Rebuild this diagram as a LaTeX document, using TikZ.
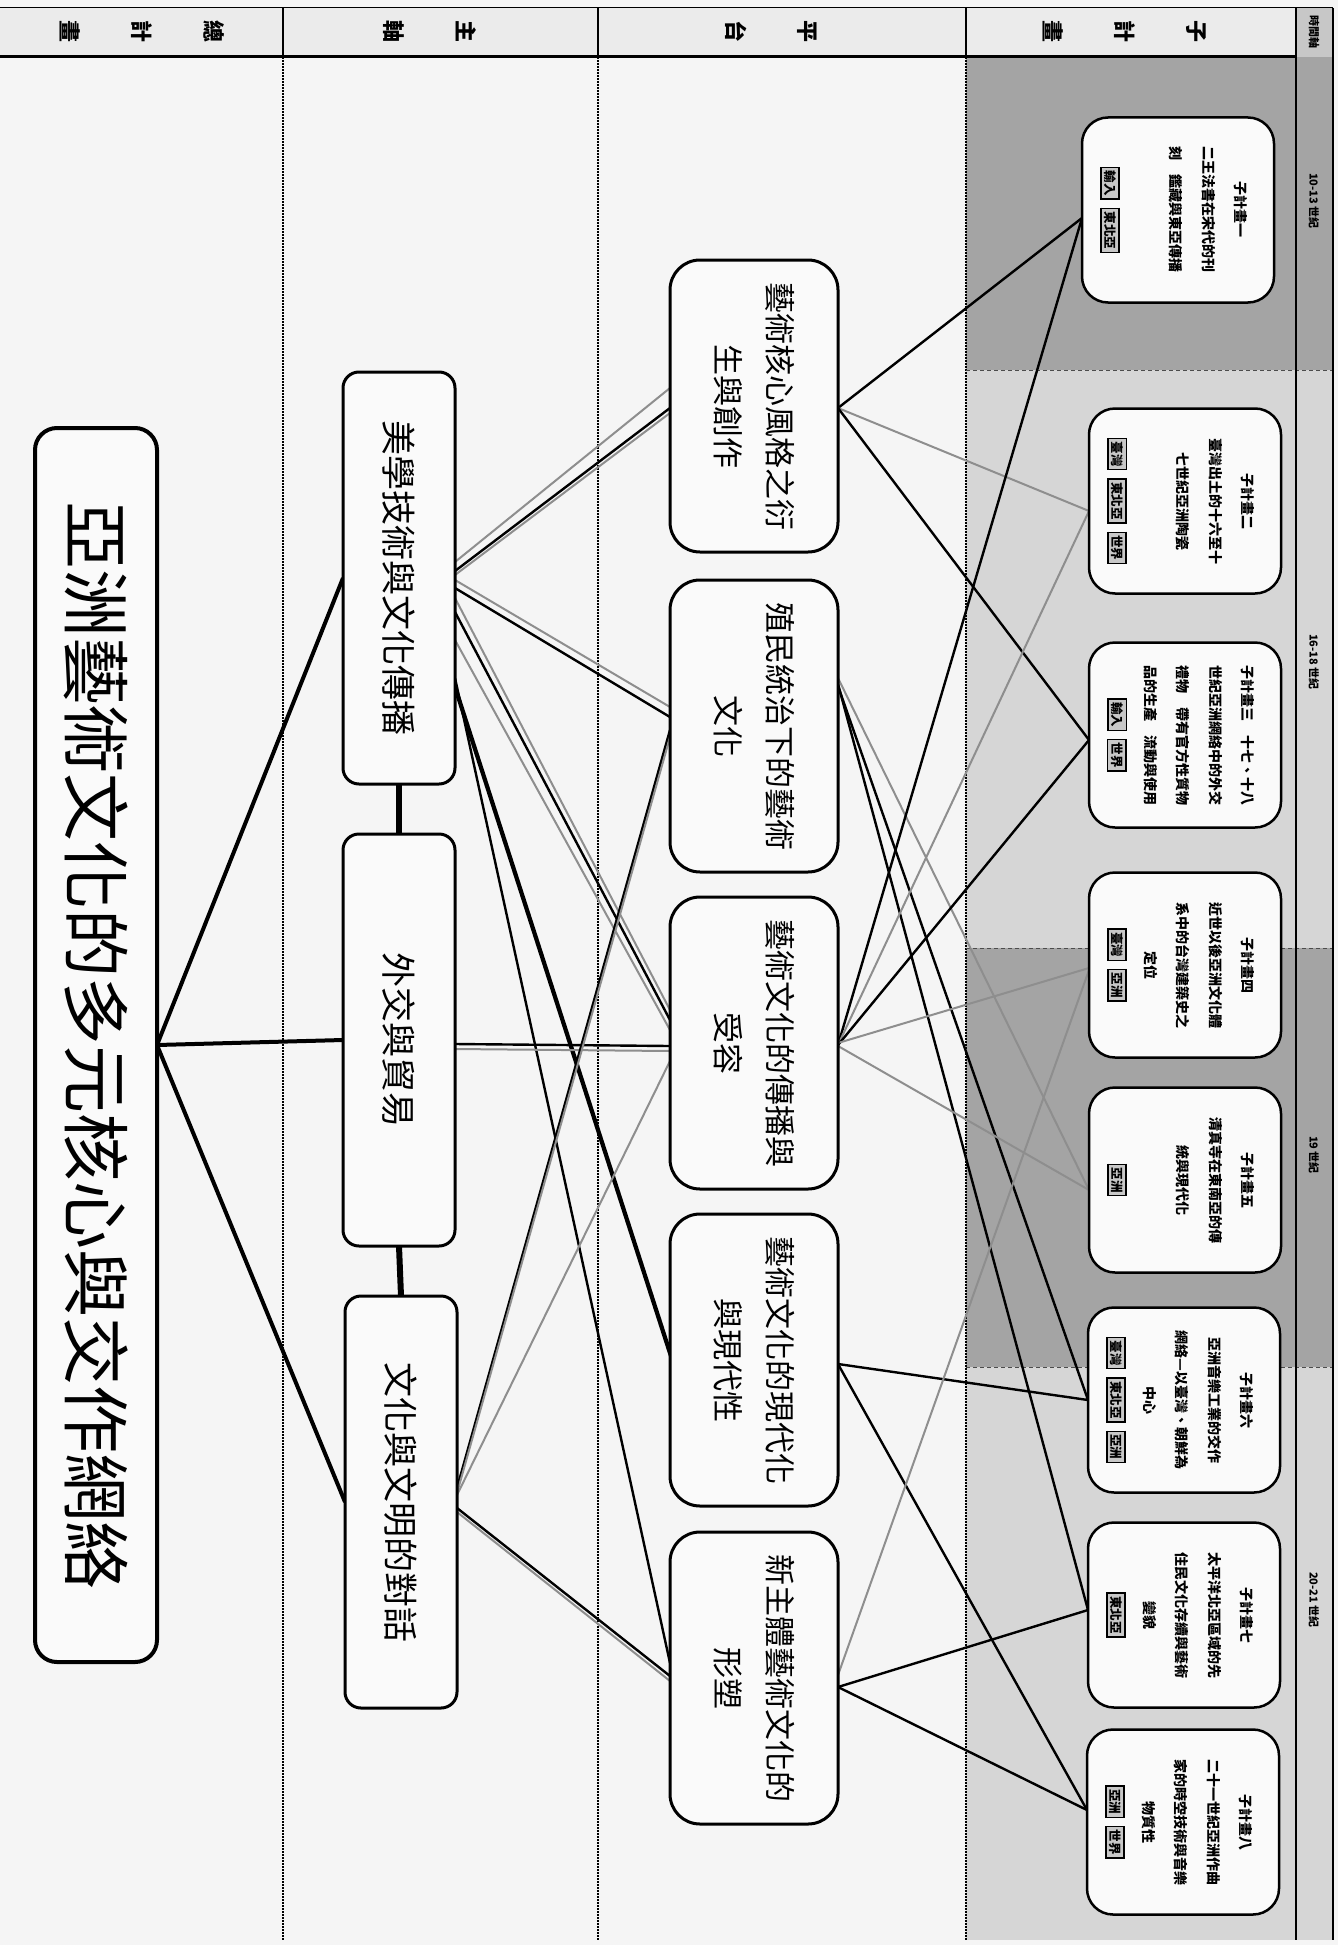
\documentclass[tikz,border=0pt]{standalone}
\usepackage{fontspec}
\setmainfont{Noto Sans CJK TC}
\usetikzlibrary{calc}
\pgfdeclarelayer{bg}
\pgfdeclarelayer{edges}
\pgfsetlayers{bg,edges,main}
\definecolor{pagebg}{HTML}{F5F5F5}
\definecolor{hdrbg}{HTML}{EBEBEB}
\definecolor{banddark}{HTML}{A4A4A4}
\definecolor{bandlight}{HTML}{D6D6D6}
\definecolor{lgray}{HTML}{8E8E8E}
\definecolor{tagfill}{HTML}{C8C8C8}
\definecolor{boxfill}{HTML}{FAFAFA}
\newcommand{\tagbx}[1]{{\setlength{\fboxsep}{2.5pt}\setlength{\fboxrule}{1.3pt}\fcolorbox{black}{tagfill}{#1}}}
\begin{document}
\begin{tikzpicture}[x=1pt,y=-1pt,
 every node/.style={inner sep=0pt, outer sep=0pt},
 titlebox/.style={draw, line width=4pt, rounded corners=22pt, fill=boxfill, rotate=-90, minimum width=1234pt, minimum height=122pt, font=\fontsize{68}{80}\selectfont},
 axisbox/.style={draw, line width=3pt, rounded corners=16pt, fill=boxfill, rotate=-90, minimum width=412pt, minimum height=112pt, font=\fontsize{35}{42}\selectfont},
 platbox/.style={draw, line width=3pt, rounded corners=30pt, fill=boxfill, rotate=-90, minimum width=292pt, minimum height=168pt, align=center, font=\fontsize{31}{52}\selectfont},
 subbox/.style={draw, line width=2.5pt, rounded corners=26pt, fill=boxfill, rotate=-90, minimum width=185pt, minimum height=192pt},
 subtext/.style={rotate=-90, anchor=north, align=center, font=\fontsize{14}{32.5}\selectfont\bfseries},
 tagrow/.style={rotate=-90, font=\fontsize{12.5}{14}\selectfont\bfseries},
 hdrtext/.style={rotate=-90, align=center, font=\fontsize{22}{72}\selectfont\bfseries},
 timetext/.style={rotate=-90, font=\fontsize{11}{13}\selectfont\bfseries},
 kline/.style={line width=2.4pt, black},
 gline/.style={line width=2pt, lgray},
 hubline/.style={line width=4pt, black},
 linkline/.style={line width=6pt, black},
 vsep/.style={line width=1.6pt, dash pattern=on 1.6pt off 1.4pt},
 bandsep/.style={line width=1pt, black!70, dash pattern=on 4pt off 3pt}
]
\useasboundingbox (0,0) rectangle (1338,1945);
\begin{pgfonlayer}{bg}
\fill[pagebg] (0,0) rectangle (1338,1945);
\fill[hdrbg] (0,8) rectangle (1333,57);
\fill[banddark] (966,57) rectangle (1333,370);
\fill[bandlight] (966,370) rectangle (1333,948);
\fill[banddark] (966,948) rectangle (1333,1367);
\fill[bandlight] (966,1367) rectangle (1333,1940);
\fill[black!22] (1296,8) rectangle (1333,57);
\draw[line width=1pt] (0,8) -- (1333,8);
\draw[line width=3pt] (0,57) -- (1296,57);
\draw[line width=1.5pt] (283,8) -- (283,57) (598,8) -- (598,57) (966,8) -- (966,57);
\draw[vsep] (283,57) -- (283,1940) (598,57) -- (598,1940) (966,57) -- (966,1940);
\draw[bandsep] (966,370) -- (1333,370) (966,948) -- (1333,948) (966,1367) -- (1333,1367);
\draw[line width=2pt] (1296,8) -- (1296,1940) (1333,8) -- (1333,1940);
\end{pgfonlayer}

% header texts
\node[hdrtext] (h1) at (142,32) {總\\計\\畫};
\node[hdrtext] (h2) at (430,32) {主\\軸};
\node[hdrtext] (h3) at (771,32) {平\\台};
\node[hdrtext] (h4) at (1125,32) {子\\計\\畫};
\node[timetext] (t0) at (1314,32) {時間軸};
\node[timetext] (t1) at (1314,201) {10-13 世紀};
\node[timetext] (t2) at (1314,662) {16-18 世紀};
\node[timetext] (t3) at (1314,1155) {19 世紀};
\node[timetext] (t4) at (1314,1600) {20-21 世紀};

% main nodes
\node[titlebox] (T) at (96,1045) {亞洲藝術文化的多元核心與交作網絡};
\node[axisbox] (A1) at (399,578) {美學技術與文化傳播};
\node[axisbox] (A2) at (399,1040) {外交與貿易};
\node[axisbox] (A3) at (401,1502) {文化與文明的對話};
\node[platbox] (P1) at (754,406) {藝術核心風格之衍\\生與創作};
\node[platbox] (P2) at (754,726) {殖民統治下的藝術\\文化};
\node[platbox] (P3) at (754,1043) {藝術文化的傳播與\\受容};
\node[platbox] (P4) at (754,1360) {藝術文化的現代化\\與現代性};
\node[platbox] (P5) at (754,1678) {新主體藝術文化的\\形塑};

% sub-projects
\node[subbox] (S1) at (1178,210) {};
\node[subtext] (S1t) at (1248,210) {子計畫一\\二王法書在宋代的刊\\刻　鑑藏與東亞傳播};
\node[tagrow] (S1g) at (1110,210) {\tagbx{輸入}\hspace{8pt}\tagbx{東北亞}};
\node[subbox] (S2) at (1185,501) {};
\node[subtext] (S2t) at (1255,501) {子計畫二\\臺灣出土的十六至十\\七世紀亞洲陶瓷};
\node[tagrow] (S2g) at (1117,501) {\tagbx{臺灣}\hspace{8pt}\tagbx{東北亞}\hspace{8pt}\tagbx{世界}};
\node[subbox] (S3) at (1185,735) {};
\node[subtext] (S3t) at (1255,735) {子計畫三　十七、十八\\世紀亞洲網絡中的外交\\禮物　帶有官方性質物\\品的生產　流動與使用};
\node[tagrow] (S3g) at (1117,735) {\tagbx{輸入}\hspace{8pt}\tagbx{世界}};
\node[subbox] (S4) at (1185,965) {};
\node[subtext] (S4t) at (1255,965) {子計畫四\\近世以後亞洲文化體\\系中的台灣建築史之\\定位};
\node[tagrow] (S4g) at (1117,965) {\tagbx{臺灣}\hspace{8pt}\tagbx{亞洲}};
\node[subbox] (S5) at (1185,1180) {};
\node[subtext] (S5t) at (1255,1180) {子計畫五\\清真寺在東南亞的傳\\統與現代化};
\node[tagrow] (S5g) at (1117,1180) {\tagbx{亞洲}};
\node[subbox] (S6) at (1184,1400) {};
\node[subtext] (S6t) at (1254,1400) {子計畫六\\亞洲音樂工業的交作\\網絡—以臺灣、朝鮮為\\中心};
\node[tagrow] (S6g) at (1116,1400) {\tagbx{臺灣}\hspace{8pt}\tagbx{東北亞}\hspace{8pt}\tagbx{亞洲}};
\node[subbox] (S7) at (1184,1615) {};
\node[subtext] (S7t) at (1254,1615) {子計畫七\\太平洋北亞區域的先\\住民文化存續與藝術\\變貌};
\node[tagrow] (S7g) at (1116,1615) {\tagbx{東北亞}};
\node[subbox] (S8) at (1183,1822) {};
\node[subtext] (S8t) at (1253,1822) {子計畫八\\二十一世紀亞洲作曲\\家的時空技術與音樂\\物質性};
\node[tagrow] (S8g) at (1115,1822) {\tagbx{亞洲}\hspace{8pt}\tagbx{世界}};

\begin{pgfonlayer}{edges}
% title hub
\draw[hubline] (T.north) -- (A1.south);
\draw[hubline] (T.north) -- (A2.south);
\draw[hubline] (T.north) -- (A3.south);
\draw[linkline] (A1.east) -- (A2.west);
\draw[linkline] (A2.east) -- (A3.west);
% A1 -> platforms
\draw[gline] ($(A1.north)+(0,-16)$) -- ($(P1.south)+(0,-18)$);
\draw[kline] ($(A1.north)+(0,-7)$) -- ($(P1.south)+(0,2)$);
\draw[gline] ($(A1.north)+(0,-3)$) -- ($(P1.south)+(0,7)$);
\draw[gline] ($(A1.north)+(0,2)$) -- ($(P2.south)+(0,-19)$);
\draw[kline] ($(A1.north)+(0,10)$) -- ($(P2.south)+(0,-9)$);
\draw[gline] ($(A1.north)+(0,20)$) -- ($(P3.south)+(0,-33)$);
\draw[kline] ($(A1.north)+(0,34)$) -- ($(P3.south)+(0,-23)$);
\draw[gline] ($(A1.north)+(0,62)$) -- ($(P3.south)+(0,-13)$);
\draw[kline] ($(A1.north)+(0,106)$) -- ($(P4.south)+(0,-10)$);
\draw[kline] ($(A1.north)+(0,112)$) -- ($(P4.south)+(0,-4)$);
\draw[kline] ($(A1.north)+(0,100)$) -- ($(P5.south)+(0,-15)$);
% A2 -> P3
\draw[kline] ($(A2.north)+(0,4)$) -- ($(P3.south)+(0,3)$);
\draw[gline] ($(A2.north)+(0,9)$) -- ($(P3.south)+(0,8)$);
% A3 -> platforms
\draw[kline] ($(A3.north)+(0,-14)$) -- ($(P2.south)+(0,4)$);
\draw[gline] ($(A3.north)+(0,-9)$) -- ($(P2.south)+(0,11)$);
\draw[gline] ($(A3.north)+(0,-7)$) -- ($(P3.south)+(0,18)$);
\draw[kline] ($(A3.north)+(0,6)$) -- ($(P5.south)+(0,-2)$);
\draw[gline] ($(A3.north)+(0,10)$) -- ($(P5.south)+(0,3)$);
% platforms -> sub-projects
\draw[kline] ($(P1.north)+(0,2)$) -- ($(S1.south)+(0,8)$);
\draw[gline] ($(P1.north)+(0,2)$) -- ($(S2.south)+(0,10)$);
\draw[kline] ($(P1.north)+(0,2)$) -- ($(S3.south)+(0,5)$);
\draw[gline] ($(P2.north)+(0,-48)$) -- ($(S5.south)+(0,10)$);
\draw[kline] ($(P2.north)+(0,-40)$) -- ($(S6.south)+(0,0)$);
\draw[kline] ($(P2.north)+(0,-42)$) -- ($(S7.south)+(0,-5)$);
\draw[kline] ($(P3.north)+(0,2)$) -- ($(S1.south)+(0,8)$);
\draw[gline] ($(P3.north)+(0,2)$) -- ($(S2.south)+(0,10)$);
\draw[kline] ($(P3.north)+(0,2)$) -- ($(S3.south)+(0,5)$);
\draw[gline] ($(P3.north)+(0,0)$) -- ($(S4.south)+(0,3)$);
\draw[gline] ($(P3.north)+(0,3)$) -- ($(S5.south)+(0,10)$);
\draw[kline] ($(P4.north)+(0,4)$) -- ($(S6.south)+(0,0)$);
\draw[kline] ($(P4.north)+(0,4)$) -- ($(S8.south)+(0,-12)$);
\draw[gline] ($(P5.north)+(0,-3)$) -- ($(S4.south)+(0,5)$);
\draw[kline] ($(P5.north)+(0,9)$) -- ($(S7.south)+(0,-5)$);
\draw[kline] ($(P5.north)+(0,9)$) -- ($(S8.south)+(0,-12)$);
\end{pgfonlayer}
\end{tikzpicture}
\end{document}
